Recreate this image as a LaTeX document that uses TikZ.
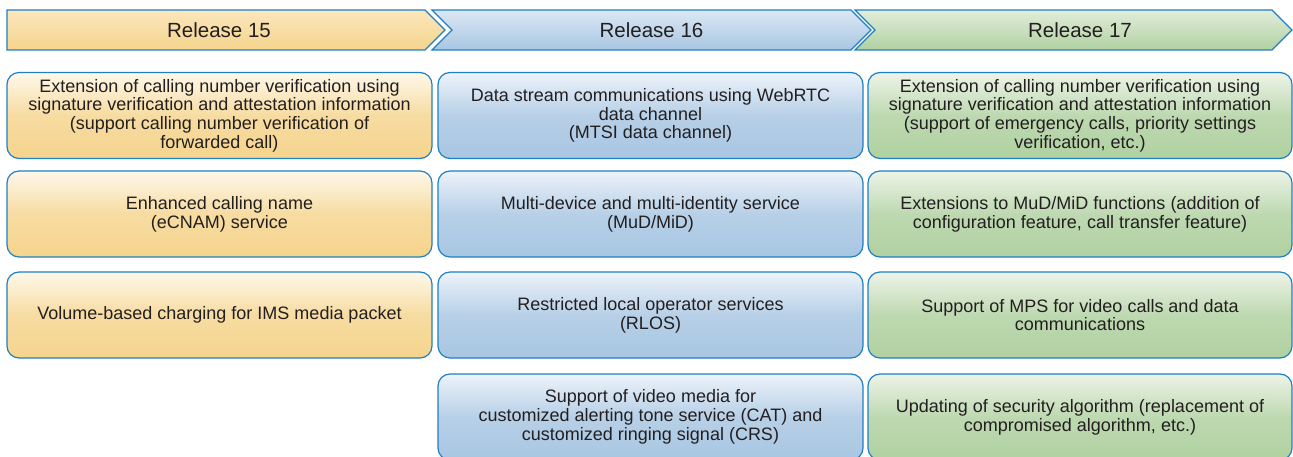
\documentclass[tikz,border=0pt]{standalone}
\usepackage{fontspec}
\setmainfont{Liberation Sans}
\definecolor{edge}{HTML}{1F7FC4}
\definecolor{txt}{HTML}{231F20}
\definecolor{oTop}{HTML}{FEF8EA}
\definecolor{oBot}{HTML}{F5D48D}
\definecolor{bTop}{HTML}{EDF3FA}
\definecolor{bBot}{HTML}{A8C6E2}
\definecolor{gTop}{HTML}{EDF4E8}
\definecolor{gBot}{HTML}{B0D1A1}
\definecolor{ohTop}{HTML}{FBE7BC}
\definecolor{bhTop}{HTML}{DCE8F4}
\definecolor{ghTop}{HTML}{E2EDDA}
\begin{document}
\begin{tikzpicture}[x=1pt,y=-1pt,
  item/.style={draw=edge,line width=1.2pt,rounded corners=12pt,
    minimum width=425pt,minimum height=86pt,inner sep=0pt,align=center,
    text=txt,font=\fontsize{18}{18.7}\selectfont},
  orangebox/.style={item,top color=oTop,bottom color=oBot,middle color=oBot!78!oTop},
  bluebox/.style={item,top color=bTop,bottom color=bBot,middle color=bBot!78!bTop},
  greenbox/.style={item,top color=gTop,bottom color=gBot,middle color=gBot!78!gTop},
  chev/.style={draw=edge,line width=1.2pt},
  head/.style={text=txt,font=\fontsize{20.5}{22}\selectfont,inner sep=0pt}]
\useasboundingbox (0,0) rectangle (1293,457);
% headers
\path[chev,top color=ohTop,bottom color=oBot] (7,10) -- (425,10) -- (445,30) -- (425,50) -- (7,50) -- cycle;
\path[chev,top color=bhTop,bottom color=bBot] (432,10) -- (851,10) -- (871,30) -- (851,50) -- (432,50) -- (452,30) -- cycle;
\path[chev,top color=ghTop,bottom color=gBot] (855,10) -- (1272,10) -- (1292,30) -- (1272,50) -- (855,50) -- (875,30) -- cycle;
\node[head] (h15) at (219,30) {Release 15};
\node[head] (h16) at (651.5,30) {Release 16};
\node[head] (h17) at (1080,30) {Release 17};
% column 1
\node[orangebox] (a1) at (219.5,115.5) {Extension of calling number verification using\\signature verification and attestation information\\(support calling number verification of\\forwarded call)};
\node[orangebox] (a2) at (219.5,214) {Enhanced calling name\\(eCNAM) service};
\node[orangebox] (a3) at (219.5,315) {Volume-based charging for IMS media packet};
% column 2
\node[bluebox] (b1) at (650.5,115.5) {Data stream communications using WebRTC\\data channel\\(MTSI data channel)};
\node[bluebox] (b2) at (650.5,214) {Multi-device and multi-identity service\\(MuD/MiD)};
\node[bluebox] (b3) at (650.5,315) {Restricted local operator services\\(RLOS)};
\node[bluebox] (b4) at (650.5,417) {Support of video media for\\customized alerting tone service (CAT) and\\customized ringing signal (CRS)};
% column 3
\node[greenbox,minimum width=424pt] (c1) at (1080,115.5) {Extension of calling number verification using\\signature verification and attestation information\\(support of emergency calls, priority settings\\verification, etc.)};
\node[greenbox,minimum width=424pt] (c2) at (1080,214) {Extensions to MuD/MiD functions (addition of\\configuration feature, call transfer feature)};
\node[greenbox,minimum width=424pt] (c3) at (1080,315) {Support of MPS for video calls and data\\communications};
\node[greenbox,minimum width=424pt] (c4) at (1080,417) {Updating of security algorithm (replacement of\\compromised algorithm, etc.)};
\end{tikzpicture}
\end{document}
